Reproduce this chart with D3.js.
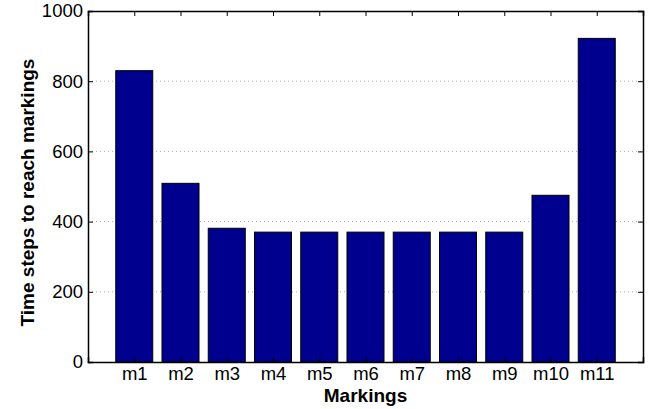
<!DOCTYPE html>
<html lang="en">

<head>
    <meta charset="UTF-8">
    <title>Time steps to reach markings</title>
    <script src="https://d3js.org/d3.v7.min.js"></script>
    <style>
        body { margin: 0; background: #fff; }
        svg { display: block; }
        text { font-family: "Liberation Sans", Arial, Helvetica, sans-serif; fill: #000; }
        .tick text { font-size: 18.5px; }
        .axis-title { font-size: 19px; font-weight: bold; }
    </style>
</head>

<body>
    <svg width="661" height="409"></svg>

    <script>
        // data
        const categories = ["m1", "m2", "m3", "m4", "m5", "m6", "m7", "m8", "m9", "m10", "m11"];
        const values = [830, 509, 381, 370, 370, 370, 370, 370, 370, 475, 922];
        const yTicks = [0, 200, 400, 600, 800, 1000];

        const svg = d3.select("svg");
        const plotLeft = 88, plotRight = 643, plotTop = 11, plotBottom = 362;

        // matlab style: bars sit at 1..n on an axis running 0..n+1
        const x = d3.scaleLinear().domain([0, categories.length + 1]).range([plotLeft, plotRight]);
        const y = d3.scaleLinear().domain([0, 1000]).range([plotBottom, plotTop]);
        const barW = x(0.8) - x(0);

        // dotted grid
        svg.append("g")
            .selectAll("line")
            .data(yTicks.filter(d => d > 0 && d < 1000))
            .join("line")
            .attr("x1", plotLeft).attr("x2", plotRight)
            .attr("y1", d => y(d)).attr("y2", d => y(d))
            .attr("stroke", "#aaa")
            .attr("stroke-dasharray", "1,3");

        // bars
        svg.append("g")
            .selectAll("rect")
            .data(values)
            .join("rect")
            .attr("x", (d, i) => x(i + 1) - barW / 2)
            .attr("y", d => y(d))
            .attr("width", barW)
            .attr("height", d => y(0) - y(d))
            .attr("fill", "#00008f")
            .attr("stroke", "#000")
            .attr("stroke-width", 1);

        // axes, ticks pointing inwards
        const idx = categories.map((c, i) => i + 1);
        const xAxis = d3.axisBottom(x).tickValues(idx).tickSize(-5).tickPadding(12)
            .tickFormat(d => categories[d - 1]);
        const gx = svg.append("g").attr("transform", `translate(0,${plotBottom})`).call(xAxis);

        const xTop = d3.axisTop(x).tickValues(idx).tickSize(-5).tickFormat("");
        const gxt = svg.append("g").attr("transform", `translate(0,${plotTop})`).call(xTop);

        const yAxis = d3.axisLeft(y).tickValues(yTicks).tickSize(-5).tickPadding(5)
            .tickFormat(d3.format("d"));
        const gy = svg.append("g").attr("transform", `translate(${plotLeft},0)`).call(yAxis);

        const yRight = d3.axisRight(y).tickValues(yTicks).tickSize(-5).tickFormat("");
        const gyr = svg.append("g").attr("transform", `translate(${plotRight},0)`).call(yRight);

        [gx, gxt, gy, gyr].forEach(g => {
            g.select(".domain").attr("stroke", "#000").attr("stroke-width", 1.5);
            g.selectAll(".tick line").attr("stroke", "#000");
            g.attr("font-family", null).attr("font-size", null);
        });
        gx.selectAll(".tick text").attr("dy", "0.33em");

        // axis titles
        svg.append("text")
            .attr("class", "axis-title")
            .attr("x", (plotLeft + plotRight) / 2)
            .attr("y", 402)
            .attr("text-anchor", "middle")
            .text("Markings");

        svg.append("text")
            .attr("class", "axis-title")
            .attr("transform", `translate(34,${(plotTop + plotBottom) / 2 + 6}) rotate(-90)`)
            .attr("text-anchor", "middle")
            .text("Time steps to reach markings");
    </script>
</body>

</html>
